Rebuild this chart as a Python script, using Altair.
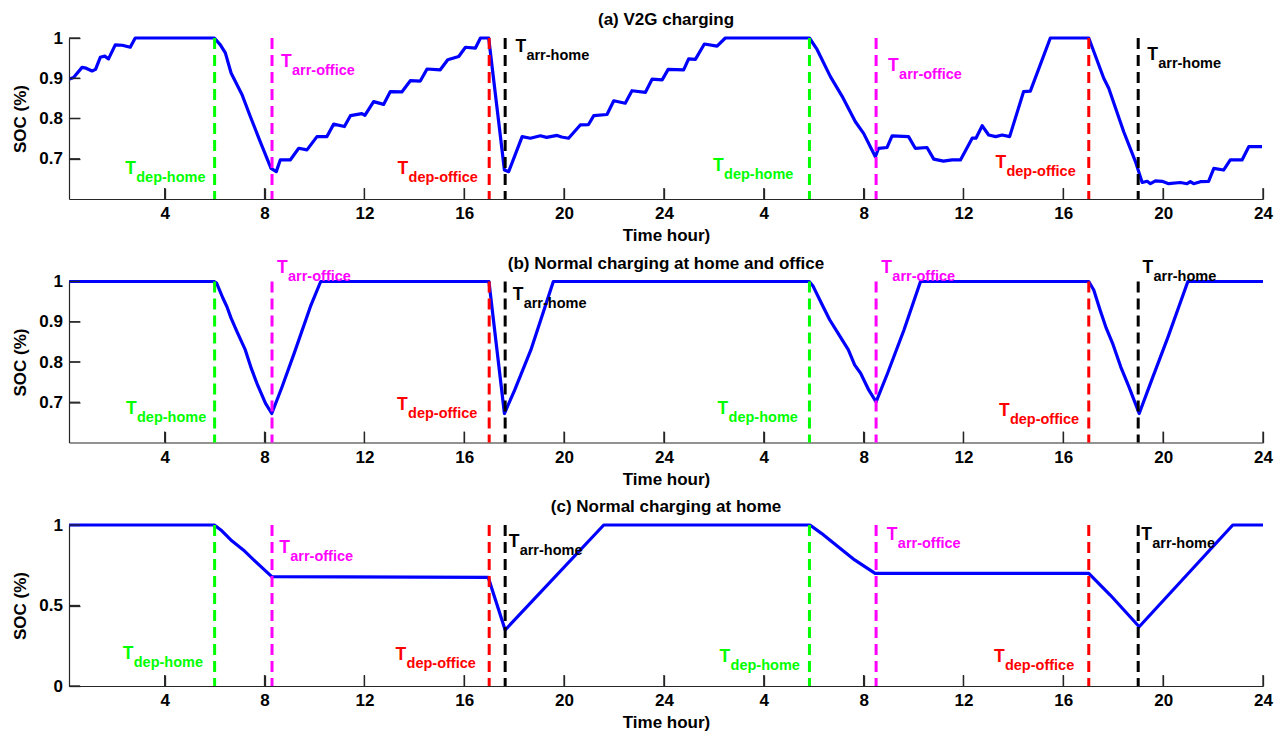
import altair as alt
import pandas as pd

# ---------------- data ----------------
# (a) V2G charging
a_t = [0.19, 0.35, 0.69, 0.85, 1.09, 1.23, 1.42, 1.6, 1.75, 2.02, 2.3, 2.62, 2.82, 5.99,
       6.23, 6.43, 6.66, 7.1, 7.43, 7.83, 8.26, 8.47, 8.63, 9.03, 9.37, 9.7, 10.1, 10.5,
       10.77, 11.2, 11.44, 11.9, 12.02, 12.37, 12.77, 13.04, 13.5, 13.84, 14.24, 14.51,
       15.04, 15.34, 15.78, 16.05, 16.45, 16.65, 16.98, 17.61, 17.78, 18.32, 18.65, 19.05,
       19.3, 19.72, 19.9, 20.18, 20.65, 20.98, 21.19, 21.72, 21.99, 22.45, 22.72, 23.26,
       23.53, 23.93, 24.17, 24.79, 24.99, 25.26, 25.62, 26.13, 26.46, 29.83, 30.14, 30.67,
       31.14, 31.67, 32.0, 32.47, 32.6, 32.94, 33.14, 33.8, 34.07, 34.54, 34.81, 35.2,
       35.54, 35.88, 36.35, 36.5, 36.75, 37.01, 37.29, 37.55, 37.85, 38.41, 38.68, 39.48,
       41.02, 41.62, 41.82, 42.42, 42.89, 43.02, 43.16, 43.36, 43.49, 43.69, 43.96, 44.22,
       44.69, 44.96, 45.09, 45.22, 45.49, 45.82, 46.03, 46.42, 46.69, 47.16, 47.43, 47.96]
a_soc = [0.898, 0.902, 0.927, 0.925, 0.918, 0.922, 0.952, 0.955, 0.948, 0.983, 0.982, 0.977, 1.0, 1.0,
         0.983, 0.963, 0.913, 0.859, 0.805, 0.742, 0.676, 0.668, 0.697, 0.697, 0.726, 0.722, 0.755, 0.755,
         0.786, 0.78, 0.807, 0.812, 0.808, 0.842, 0.835, 0.867, 0.866, 0.894, 0.893, 0.923,
         0.921, 0.946, 0.954, 0.977, 0.975, 1.0, 1.0, 0.672, 0.668, 0.755, 0.751, 0.757,
         0.753, 0.758, 0.754, 0.751, 0.784, 0.785, 0.807, 0.81, 0.844, 0.838, 0.869, 0.865,
         0.898, 0.896, 0.922, 0.921, 0.948, 0.947, 0.985, 0.98, 1.0, 1.0, 0.971, 0.904,
         0.855, 0.792, 0.763, 0.705, 0.726, 0.728, 0.757, 0.755, 0.726, 0.728, 0.699, 0.694,
         0.697, 0.697, 0.751, 0.751, 0.782, 0.759, 0.755, 0.759, 0.755, 0.867, 0.868, 1.0,
         1.0, 0.9, 0.875, 0.767, 0.693, 0.668, 0.641, 0.644, 0.638, 0.645, 0.644, 0.638,
         0.641, 0.638, 0.643, 0.638, 0.643, 0.644, 0.676, 0.672, 0.697, 0.697, 0.73, 0.73]

# (b) Normal charging at home and office
b_t = [0.17, 5.97, 6.08, 6.33, 6.49, 6.66, 6.9, 7.23, 7.47, 7.72, 8.04, 8.29, 8.7, 9.19, 9.84,
       10.25, 16.99, 17.61, 18.02, 18.67, 19.57, 29.82, 29.98, 30.31, 30.64, 31.06, 31.39,
       31.64, 31.88, 32.21, 32.5, 32.96, 33.62, 34.28, 41.02, 41.22, 41.47, 41.72, 41.97,
       42.3, 42.63, 43.04, 43.54, 44.2, 44.99, 48.0]
b_soc = [1.0, 1.0, 0.996, 0.959, 0.938, 0.909, 0.875, 0.83, 0.784, 0.743, 0.697, 0.672, 0.738, 0.822, 0.938,
         1.0, 1.0, 0.672, 0.73, 0.83, 1.0, 1.0, 0.988, 0.946, 0.905, 0.863, 0.83,
         0.793, 0.772, 0.73, 0.701, 0.772, 0.88, 1.0, 1.0, 0.979, 0.93, 0.884, 0.847,
         0.788, 0.738, 0.672, 0.755, 0.863, 1.0, 1.0]

# (c) Normal charging at home
c_t = [0.17, 5.99, 6.25, 6.65, 7.15, 7.64, 8.29, 16.96, 17.64, 21.59, 29.85, 30.31, 30.98,
       31.64, 32.46, 41.02, 41.88, 43.04, 46.79, 48.0]
c_soc = [1.0, 1.0, 0.969, 0.907, 0.845, 0.772, 0.679, 0.675, 0.348, 1.0, 1.0, 0.948, 0.865,
         0.783, 0.7, 0.7, 0.565, 0.368, 1.0, 1.0]

# events (vertical dashed lines), two days
event_kinds = ["dep-home", "arr-office", "dep-office", "arr-home"]
event_colors = ["#00ff00", "#ff00ff", "#ff0000", "#000000"]
event_t = [6.0, 8.3, 17.0, 17.64, 29.83, 32.5, 41.02, 43.0]
event_kind = event_kinds * 2

# annotation anchors (left / baseline of the "T")
label_kind = event_kinds * 2
a_lab_t = [2.42, 8.66, 13.33, 18.05, 25.97, 32.98, 37.28, 43.36]
a_lab_soc = [0.663, 0.929, 0.663, 0.965, 0.669, 0.917, 0.676, 0.946]
b_lab_t = [2.45, 8.5, 13.31, 17.94, 26.15, 32.71, 37.42, 43.17]
b_lab_soc = [0.67, 1.021, 0.68, 0.954, 0.672, 1.021, 0.665, 1.021]
c_lab_t = [2.32, 8.59, 13.25, 17.78, 26.23, 32.93, 37.22, 43.12]
c_lab_soc = [0.168, 0.828, 0.161, 0.865, 0.151, 0.907, 0.151, 0.907]

# axes
x_tick_values = [4, 8, 12, 16, 20, 24, 28, 32, 36, 40, 44, 48]
x_tick_labels = ["4", "8", "12", "16", "20", "24", "4", "8", "12", "16", "20", "24"]
ab_y_ticks = [0.7, 0.8, 0.9, 1.0]
ab_y_labels = ["0.7", "0.8", "0.9", "1"]
c_y_ticks = [0.0, 0.5, 1.0]
c_y_labels = ["0", "0.5", "1"]

titles = ["(a) V2G charging", "(b) Normal charging at home and office", "(c) Normal charging at home"]

# ---------------- chart ----------------
W, H = 1194, 161
XDOM = [1 / 6, 48]
FONT = "Liberation Sans"
AXC = "#262626"
TICK = 11


def lookup_expr(values, labels):
    vals = ",".join(repr(float(v)) for v in values)
    labs = ",".join("'" + s + "'" for s in labels)
    return "[" + labs + "][indexof([" + vals + "], datum.value)]"


color_scale = alt.Scale(domain=event_kinds, range=event_colors)


def panel(title, t, soc, ydom, yvals, ylabels, lab_t, lab_soc):
    xs = alt.Scale(domain=XDOM, nice=False, zero=False)
    ys = alt.Scale(domain=ydom, nice=False, zero=False)
    # ticks point inward (negative size given as an expression)
    xaxis = alt.Axis(values=x_tick_values, labelExpr=lookup_expr(x_tick_values, x_tick_labels),
                     title="Time hour)", grid=False, tickSize={"expr": str(-TICK)},
                     labelPadding=6.7 + TICK, labelFlush=False, titlePadding=6)
    yaxis = alt.Axis(values=yvals, labelExpr=lookup_expr(yvals, ylabels), title="SOC (%)",
                     grid=False, tickSize={"expr": str(-TICK)}, labelPadding=6.6 + TICK,
                     titlePadding=9)

    def X(f):
        return alt.X(f, scale=xs, axis=xaxis)

    def Y(f):
        return alt.Y(f, scale=ys, axis=yaxis)

    df = pd.DataFrame({"t": t, "soc": soc, "i": list(range(len(t)))})
    line = alt.Chart(df).mark_line(color="#0000ff", strokeWidth=3.2, strokeJoin="round").encode(
        x=X("t:Q"), y=Y("soc:Q"), order="i:Q",
    )

    dfr = pd.DataFrame({"t": event_t, "kind": event_kind,
                        "soc": [ydom[1]] * len(event_t), "bot": [ydom[0]] * len(event_t)})
    rules = alt.Chart(dfr).mark_rule(strokeWidth=3, strokeDash=[11, 6]).encode(
        x=X("t:Q"), y=Y("soc:Q"), y2="bot:Q",
        color=alt.Color("kind:N", scale=color_scale, legend=None),
    )

    dfl = pd.DataFrame({"t": lab_t, "soc": lab_soc, "kind": label_kind})
    big = alt.Chart(dfl).mark_text(text="T", align="left", baseline="alphabetic", fontSize=17.5,
                                   fontWeight="bold", font=FONT).encode(
        x=X("t:Q"), y=Y("soc:Q"),
        color=alt.Color("kind:N", scale=color_scale, legend=None),
    )
    sub = alt.Chart(dfl).mark_text(align="left", baseline="alphabetic", fontSize=14.5, dx=11, dy=8,
                                   fontWeight="bold", font=FONT).encode(
        x=X("t:Q"), y=Y("soc:Q"), text="kind:N",
        color=alt.Color("kind:N", scale=color_scale, legend=None),
    )

    # inner tick marks (drawn again as rules so they show for sure)
    xt = alt.Chart(pd.DataFrame({"t": x_tick_values})).mark_rule(color=AXC, strokeWidth=1.3).encode(
        x=X("t:Q"), y=alt.value(H), y2=alt.value(H - TICK))
    yt = alt.Chart(pd.DataFrame({"soc": yvals})).mark_rule(color=AXC, strokeWidth=1.3).encode(
        y=Y("soc:Q"), x=alt.value(0), x2=alt.value(TICK))

    head = alt.Chart(pd.DataFrame({"title": [title]})).mark_text(
        align="center", baseline="alphabetic", fontSize=17, fontWeight="bold", font=FONT,
        color="black").encode(text="title:N", x=alt.value(W / 2), y=alt.value(-13))

    return alt.layer(line, xt, yt, rules, big, sub, head).properties(width=W, height=H)


pa = panel(titles[0], a_t, a_soc, [0.6, 1.0], ab_y_ticks, ab_y_labels, a_lab_t, a_lab_soc)
pb = panel(titles[1], b_t, b_soc, [0.6, 1.0], ab_y_ticks, ab_y_labels, b_lab_t, b_lab_soc)
pc = panel(titles[2], c_t, c_soc, [0.0, 1.0], c_y_ticks, c_y_labels, c_lab_t, c_lab_soc)

chart = alt.vconcat(pa, pb, pc, spacing=82.5, bounds="flush").properties(
    padding={"left": 3, "top": 2, "right": 2, "bottom": 2}
).configure_view(stroke="transparent").configure_axis(
    labelFont=FONT, labelFontSize=17, labelFontWeight="bold", labelColor="black",
    titleFont=FONT, titleFontSize=17, titleFontWeight="bold", titleColor="black",
    domainColor=AXC, domainWidth=1.2, tickColor=AXC, tickWidth=1.3,
)

chart.save("out.html", embed_options={"renderer": "svg", "actions": False})
